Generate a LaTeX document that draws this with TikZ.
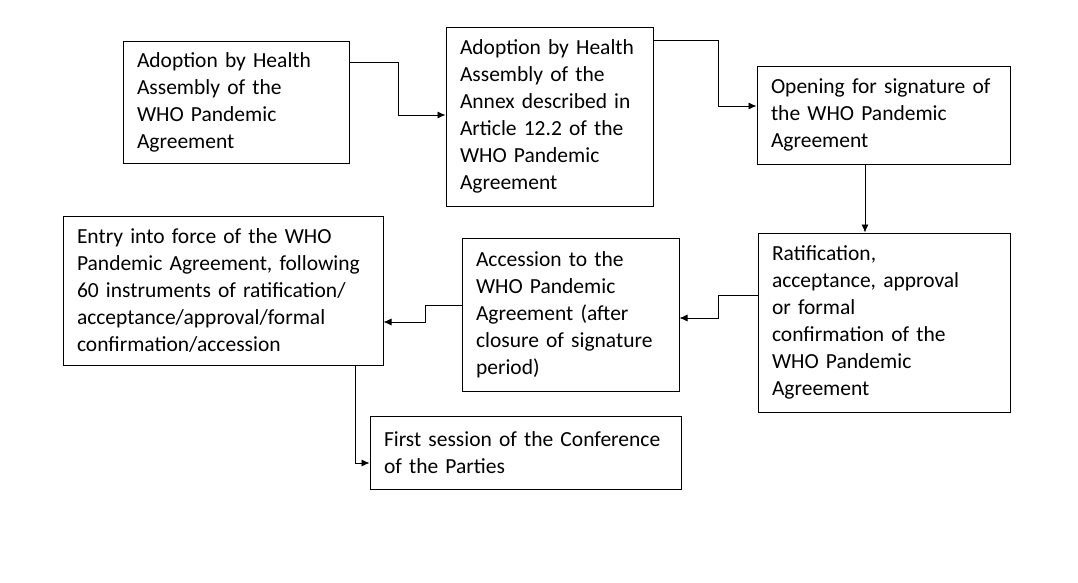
\documentclass[tikz,border=0pt]{standalone}
\usepackage{fontspec}
\setmainfont{Carlito}
\usetikzlibrary{arrows.meta}
\begin{document}
\begin{tikzpicture}[x=1pt,y=-1pt,
  bx/.style={draw,line width=1pt,align=left,inner xsep=14pt,inner ysep=0pt,
    font=\fontsize{21.5}{27}\selectfont},
  ar/.style={-{Latex[length=8pt,width=7pt]},line width=0.8pt}]
\useasboundingbox (0,0) rectangle (1078,582);
\node[bx,text width=198pt,minimum width=226pt,minimum height=122pt] (a) at (236,102) {Adoption by Health\\ Assembly of the\\ WHO Pandemic\\ Agreement};
\node[bx,text width=179pt,minimum width=207pt,minimum height=179pt] (b) at (549.5,116.5) {Adoption by Health\\ Assembly of the\\ Annex described in\\ Article 12.2 of the\\ WHO Pandemic\\ Agreement};
\node[bx,text width=225pt,minimum width=253pt,minimum height=98pt] (c) at (883.5,115) {Opening for signature of\\ the WHO Pandemic\\ Agreement};
\node[bx,text width=224pt,minimum width=252pt,minimum height=179pt] (d) at (884,322.5) {Ratification,\\ acceptance, approval\\ or formal\\ confirmation of the\\ WHO Pandemic\\ Agreement};
\node[bx,text width=189pt,minimum width=217pt,minimum height=153pt] (e) at (570.5,314.5) {Accession to the\\ WHO Pandemic\\ Agreement (after\\ closure of signature\\ period)};
\node[bx,text width=292pt,minimum width=320pt,minimum height=149pt] (f) at (223,290.5) {Entry into force of the WHO\\ Pandemic Agreement, following\\ 60 instruments of ratification/\\ acceptance/approval/formal\\ confirmation/accession};
\node[bx,text width=283pt,minimum width=311pt,minimum height=73pt] (g) at (525.5,452.5) {First session of the Conference\\ of the Parties};
\draw[ar] (a.east|-0,62) -| (398,115) -- (b.west|-0,115);
\draw[ar] (b.east|-0,40) -| (718,106) -- (c.west|-0,106);
\draw[ar] (c.south-|865,0) -- (d.north-|865,0);
\draw[ar] (d.west|-0,295) -| (718,318) -- (e.east|-0,318);
\draw[ar] (e.west|-0,305) -| (425,322) -- (f.east|-0,322);
\draw[ar] (f.south-|355,0) |- (g.west|-0,463);
\end{tikzpicture}
\end{document}
